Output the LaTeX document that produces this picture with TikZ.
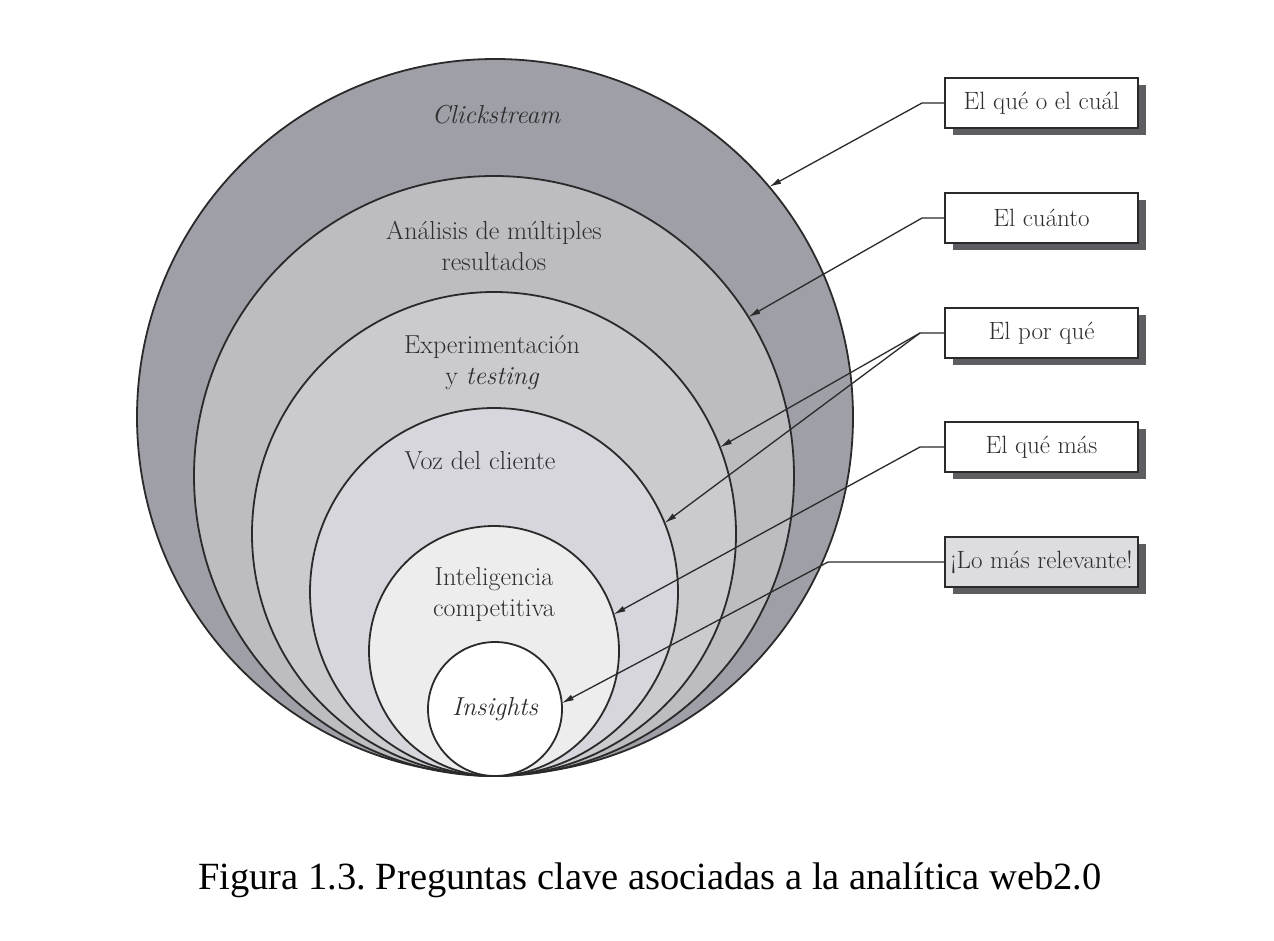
\documentclass[tikz,border=0pt]{standalone}
\usepackage{fontspec}
\newfontfamily\capfont{Liberation Serif}
\usetikzlibrary{arrows.meta,shadows}
\definecolor{ringA}{HTML}{9FA0A7}
\definecolor{ringB}{HTML}{BCBCC1}
\definecolor{ringC}{HTML}{CACACF}
\definecolor{ringD}{HTML}{D6D6DC}
\definecolor{ringE}{HTML}{EDEDED}
\definecolor{lineC}{HTML}{2A2A2A}
\definecolor{shadowC}{HTML}{5E5E62}
\definecolor{txtC}{HTML}{2E2E2E}
\tikzset{
  ring/.style={circle,draw=lineC,line width=1.8pt,inner sep=0pt,outer sep=0pt},
  lbl/.style={font=\fontsize{26}{31}\selectfont,text=txtC,align=center},
  qbox/.style={draw=lineC,line width=1.5pt,fill=white,minimum width=193pt,minimum height=50pt,
     inner sep=0pt,outer sep=0pt,font=\fontsize{25}{30}\selectfont,text=txtC,
     drop shadow={shadow xshift=8pt,shadow yshift=-7pt,fill=shadowC,opacity=1}},
  arr/.style={draw=lineC,line width=1.3pt,-{Latex[length=12pt,width=6pt]}}
}
\begin{document}
\frenchspacing
\begin{tikzpicture}[x=1pt,y=-1pt]
\useasboundingbox (0,0) rectangle (1274,940);
\fill[white] (0,0) rectangle (1274,940);
% circles
\node[ring,fill=ringA,minimum size=716pt] (c1) at (495,417) {};
\node[ring,fill=ringB,minimum size=600pt] (c2) at (494,476) {};
\node[ring,fill=ringC,minimum size=484pt] (c3) at (494,534) {};
\node[ring,fill=ringD,minimum size=368pt] (c4) at (494,592) {};
\node[ring,fill=ringE,minimum size=250pt] (c5) at (494,651) {};
\node[ring,fill=white,minimum size=134pt] (c6) at (495,709) {};
% labels
\node[lbl] (l1) at (496,115) {\itshape Clickstream};
\node[lbl] (l2) at (494,246) {Análisis de múltiples\\resultados};
\node[lbl] (l3) at (492,363) {Experimentación\\y \itshape testing};
\node[lbl] (l4) at (480,461) {Voz del cliente};
\node[lbl] (l5) at (494,595) {Inteligencia\\competitiva};
\node[lbl] (l6) at (495,709) {\itshape Insights};
% boxes
\node[qbox] (q1) at (1041.5,103) {El qué o el cuál};
\node[qbox] (q2) at (1041.5,218) {El cuánto};
\node[qbox] (q3) at (1041.5,333) {El por qué};
\node[qbox] (q4) at (1041.5,447) {El qué más};
\node[qbox,fill=ringD!85!white] (q5) at (1041.5,562) {¡Lo más relevante!};
% bends
\coordinate (b1) at (922,103);
\coordinate (b2) at (922,218);
\coordinate (b3) at (920,333);
\coordinate (b4) at (920,447);
\coordinate (b5) at (828,562);
% connectors
\draw[arr] (q1.west) -- (b1) -- (c1.40);
\draw[arr] (q2.west) -- (b2) -- (c2.32);
\draw[arr] (q3.west) -- (b3) -- (c3.21.5);
\draw[arr] (b3) -- (c4.22);
\draw[arr] (q4.west) -- (b4) -- (c5.17.5);
\draw[arr] (q5.west) -- (b5) -- (c6.5);
% caption
\node[font=\capfont\fontsize{38.5}{44}\selectfont,text=black] (cap) at (650,880) {Figura 1.3. Preguntas clave asociadas a la analítica web2.0};
\end{tikzpicture}
\end{document}
